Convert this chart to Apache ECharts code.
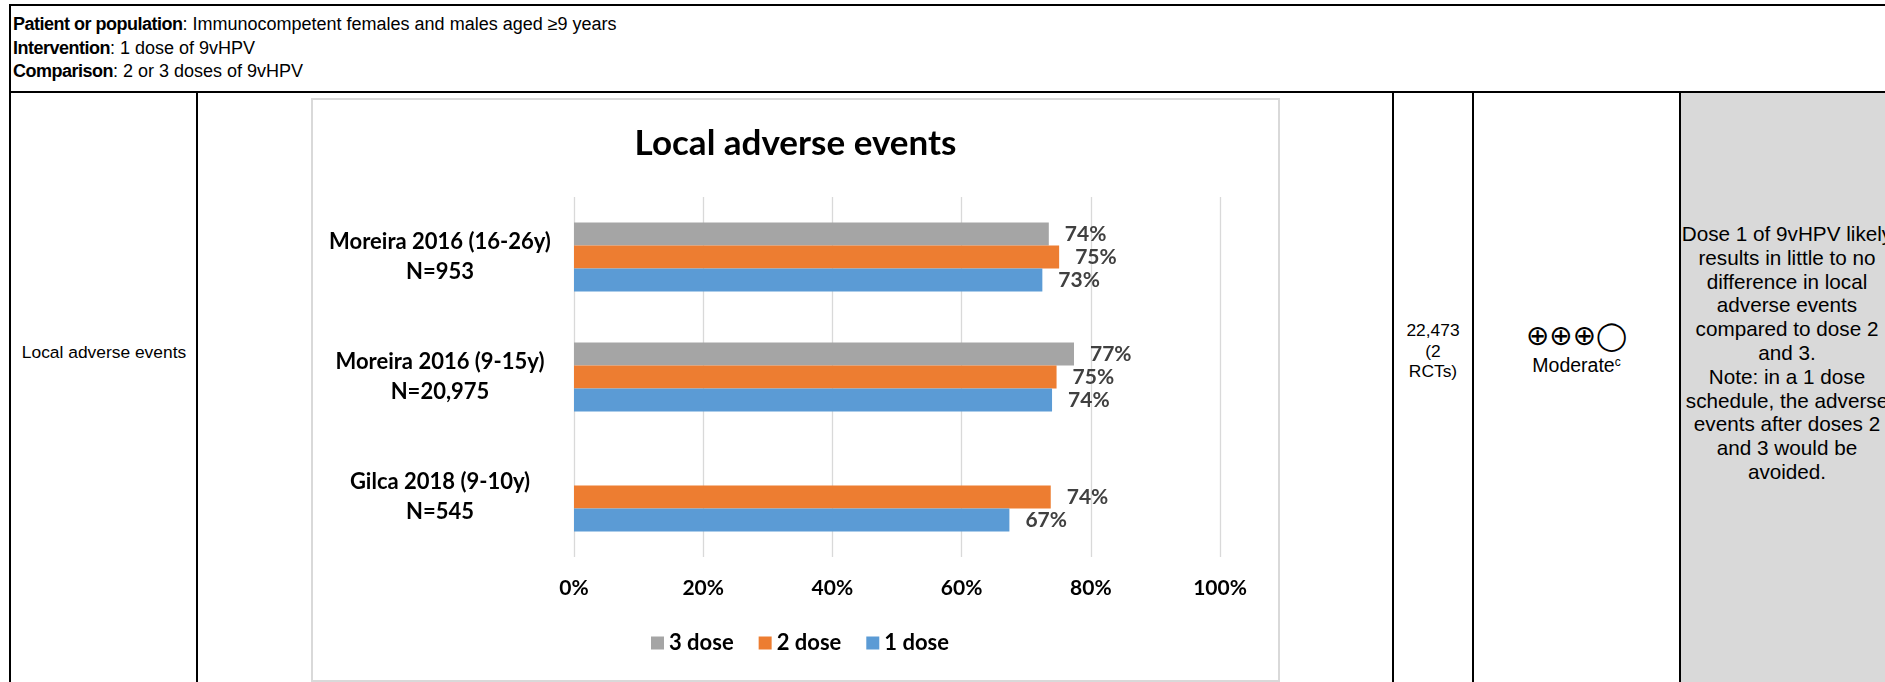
<!DOCTYPE html>
<html><head><meta charset="utf-8">
<script src="https://cdn.jsdelivr.net/npm/echarts@6/dist/echarts.min.js"></script>
<style>
html,body{margin:0;padding:0;background:#fff;}
body{width:1885px;height:682px;overflow:hidden;position:relative;font-family:"Liberation Sans",Arial,sans-serif;color:#000;}
.ln{position:absolute;background:#000;}
.t{position:absolute;white-space:nowrap;}
.hd b{letter-spacing:-0.5px;}
#box{position:absolute;left:311px;top:98px;width:969px;height:584px;box-sizing:border-box;border:2px solid #d9d9d9;background:#fff;}
#chart{position:absolute;left:0;top:0;width:965px;height:580px;}
</style></head><body>
<div style="position:absolute;left:1681px;top:93px;width:204px;height:589px;background:#d9d9d9"></div>
<div class="ln" style="left:9px;top:4px;width:1876px;height:2px"></div>
<div class="ln" style="left:9px;top:4px;width:2px;height:678px"></div>
<div class="ln" style="left:9px;top:91px;width:1876px;height:2px"></div>
<div class="ln" style="left:196px;top:91px;width:2px;height:591px"></div>
<div class="ln" style="left:1392px;top:91px;width:2px;height:591px"></div>
<div class="ln" style="left:1472px;top:91px;width:2px;height:591px"></div>
<div class="ln" style="left:1679px;top:91px;width:2px;height:591px"></div>

<div class="t hd" style="left:13px;top:13px;font-size:18px;line-height:23.5px">
<b>Patient or population</b>: Immunocompetent females and males aged ≥9 years<br>
<b>Intervention</b>: 1 dose of 9vHPV<br>
<b>Comparison</b>: 2 or 3 doses of 9vHPV
</div>

<div class="t" style="left:4px;width:200px;text-align:center;top:342px;font-size:17.4px;line-height:20px">Local adverse events</div>

<div class="t" style="left:1394px;width:78px;text-align:center;top:320px;font-size:17.4px;line-height:20.5px">22,473<br>(2<br>RCTs)</div>

<div class="t" style="left:1474px;width:205px;text-align:center;top:320px;font-size:28px;line-height:32px;font-family:'DejaVu Sans',sans-serif">⊕⊕⊕◯</div>
<div class="t" style="left:1474px;width:205px;text-align:center;top:353px;font-size:19.5px;line-height:24px">Moderate<sup style="font-size:12px;vertical-align:6px;line-height:0">c</sup></div>

<div class="t" style="left:1667px;width:240px;text-align:center;top:222px;font-size:20.7px;line-height:23.8px">Dose 1 of 9vHPV likely<br>results in little to no<br>difference in local<br>adverse events<br>compared to dose 2<br>and 3.<br>Note: in a 1 dose<br>schedule, the adverse<br>events after doses 2<br>and 3 would be<br>avoided.</div>

<div id="box"><div id="chart"></div></div>

<script>
const chartTitle = 'Local adverse events';
const studies = ['Moreira 2016 (16-26y)', 'Moreira 2016 (9-15y)', 'Gilca 2018 (9-10y)'];
const sampleSizes = ['N=953', 'N=20,975', 'N=545'];
const seriesNames = ['3 dose', '2 dose', '1 dose'];
const dose3 = [73.5, 77.4, null];
const dose2 = [75.1, 74.7, 73.8];
const dose1 = [72.5, 74.0, 67.4];
const seriesColors = ['#a5a5a5', '#ed7d31', '#5b9bd5'];
const xMin = 0, xMax = 100, xStep = 20;

const FONT = 'Lato, "Open Sans", sans-serif';
const categories = studies.map((s, i) => s + '\n' + sampleSizes[i]);
const seriesData = [dose3, dose2, dose1];

const chart = echarts.init(document.getElementById('chart'), null, {renderer: 'canvas'});
chart.setOption({
  animation: false,
  title: {
    text: chartTitle, left: 'center', top: 21,
    textStyle: {fontFamily: FONT, fontWeight: 'bold', fontSize: 35, color: '#000'}
  },
  legend: {
    data: seriesNames, left: 333, top: 527,
    itemWidth: 13, itemHeight: 13, itemGap: 25, icon: 'rect',
    textStyle: {fontFamily: FONT, fontWeight: 'bold', fontSize: 22, color: '#000'}
  },
  grid: {left: 261, width: 646, top: 97, height: 360, containLabel: false},
  xAxis: {
    type: 'value', min: xMin, max: xMax, interval: xStep,
    axisLine: {show: false}, axisTick: {show: false},
    splitLine: {show: true, lineStyle: {color: '#d9d9d9', width: 1.3}},
    axisLabel: {formatter: v => v + '%', margin: 21, fontFamily: FONT, fontWeight: 'bold', fontSize: 21, color: '#000'}
  },
  yAxis: {
    type: 'category', data: categories, inverse: true,
    axisLine: {show: false}, axisTick: {show: false},
    axisLabel: {align: 'center', margin: 134, fontFamily: FONT, fontWeight: 'bold', fontSize: 22, color: '#000', lineHeight: 30}
  },
  series: seriesNames.map((name, i) => ({
    name: name, type: 'bar', data: seriesData[i],
    barWidth: 23, barGap: '0%',
    itemStyle: {color: seriesColors[i]},
    label: {
      show: true, position: 'right', distance: 16,
      formatter: p => (p.value == null ? '' : Math.round(p.value) + '%'),
      fontFamily: FONT, fontWeight: 'bold', fontSize: 21, color: '#404040'
    }
  }))
});
</script>
</body></html>
